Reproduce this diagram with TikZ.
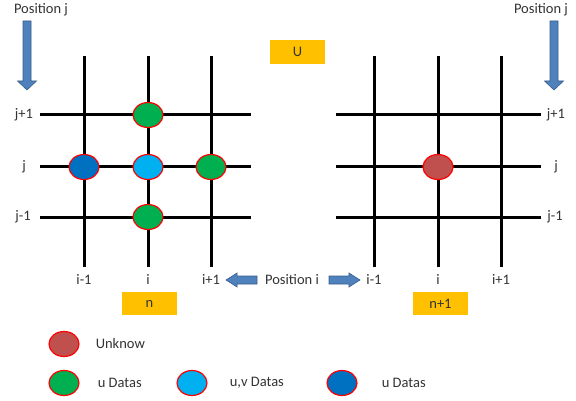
\documentclass[tikz,border=0pt]{standalone}
\usepackage{fontspec}
\setmainfont{Carlito}
\usetikzlibrary{shapes.geometric,positioning}
\definecolor{gold}{HTML}{FFC000}
\definecolor{arrowblue}{HTML}{4F81BD}
\definecolor{arrowedge}{HTML}{385D8A}
\definecolor{udata}{HTML}{00B050}
\definecolor{uvdata}{HTML}{00B0F0}
\definecolor{udatadark}{HTML}{0070C0}
\definecolor{unknown}{HTML}{C0504D}
\tikzset{
  gridline/.style={line width=3pt, black},
  label/.style={inner sep=0pt, text=black!80, font=\fontsize{14.5}{17}\selectfont},
  level/.style={fill=gold, minimum width=55pt, minimum height=23.5pt, inner sep=0pt,
    text=black!80, font=\fontsize{14.5}{17}\selectfont},
  point/.style={ellipse, draw=red, line width=1.2pt, minimum width=30pt, minimum height=25pt, inner sep=0pt},
  blockarrow/.style={fill=arrowblue, draw=arrowedge, line width=0.6pt, line join=miter}
}
\begin{document}
\begin{tikzpicture}[x=1pt, y=-1pt]
  \useasboundingbox (0,0) rectangle (576,401);
  % grids
  \foreach \x in {84,148,211,374,438,501}
    \draw [gridline] (\x,56) -- (\x,267);
  \foreach \y in {115,167,217} {
    \draw [gridline] (40,\y) -- (251,\y);
    \draw [gridline] (336,\y) -- (541,\y);
  }
  % position j labels and arrows
  \node [label] (posjl) at (41,10) {Position j};
  \node [label] (posjr) at (541,10) {Position j};
  \draw [blockarrow] (23,21) -- (31,21) -- (31,81) -- (36.5,81) -- (27,90) -- (17.5,81) -- (23,81) -- cycle;
  \draw [blockarrow] (550,21) -- (558,21) -- (558,81) -- (563.5,81) -- (554,90) -- (544.5,81) -- (550,81) -- cycle;
  % j labels
  \node [label] (jpl) at (24,115) {j+1};
  \node [label] (jl) at (24,167) {j};
  \node [label] (jml) at (23,217) {j-1};
  \node [label] (jpr) at (556,115) {j+1};
  \node [label] (jr) at (556,167) {j};
  \node [label] (jmr) at (555,217) {j-1};
  % i labels
  \node [label] (iml) at (84,280) {i-1};
  \node [label] (il) at (148,280) {i};
  \node [label] (ipl) at (211,280) {i+1};
  \node [label] (imr) at (374,280) {i-1};
  \node [label] (ir) at (438,280) {i};
  \node [label] (ipr) at (501,280) {i+1};
  % position i
  \node [label] (posi) at (292,280) {Position i};
  \draw [blockarrow] (226,280) -- (237,273) -- (237,276) -- (257,276) -- (257,284) -- (237,284) -- (237,287) -- cycle;
  \draw [blockarrow] (360,280) -- (349,273) -- (349,276) -- (329,276) -- (329,284) -- (349,284) -- (349,287) -- cycle;
  % time levels
  \node [level] (U) at (297.5,52) {U};
  \node [level] (n) at (149.5,303.5) {n};
  \node [level] (np) at (440.5,303.5) {n+1};
  % stencil points
  \node [point, fill=udata] (top) at (148,115) {};
  \node [point, fill=udatadark] (west) at (84,167) {};
  \node [point, fill=uvdata] (centre) at (148,167) {};
  \node [point, fill=udata] (east) at (211,167) {};
  \node [point, fill=udata] (bottom) at (148,217) {};
  \node [point, fill=unknown] (new) at (438,167) {};
  % legend
  \node [point, fill=unknown] (legunk) at (64,344) {};
  \node [label, right=16pt of legunk] {Unknow};
  \node [point, fill=udata] (legu) at (64,383) {};
  \node [label, right=18pt of legu] {u Datas};
  \node [point, fill=uvdata] (leguv) at (192,383) {};
  \node [label, right=22pt of leguv] {u,v Datas};
  \node [point, fill=udatadark] (legud) at (342,383) {};
  \node [label, right=24pt of legud] {u Datas};
\end{tikzpicture}
\end{document}
